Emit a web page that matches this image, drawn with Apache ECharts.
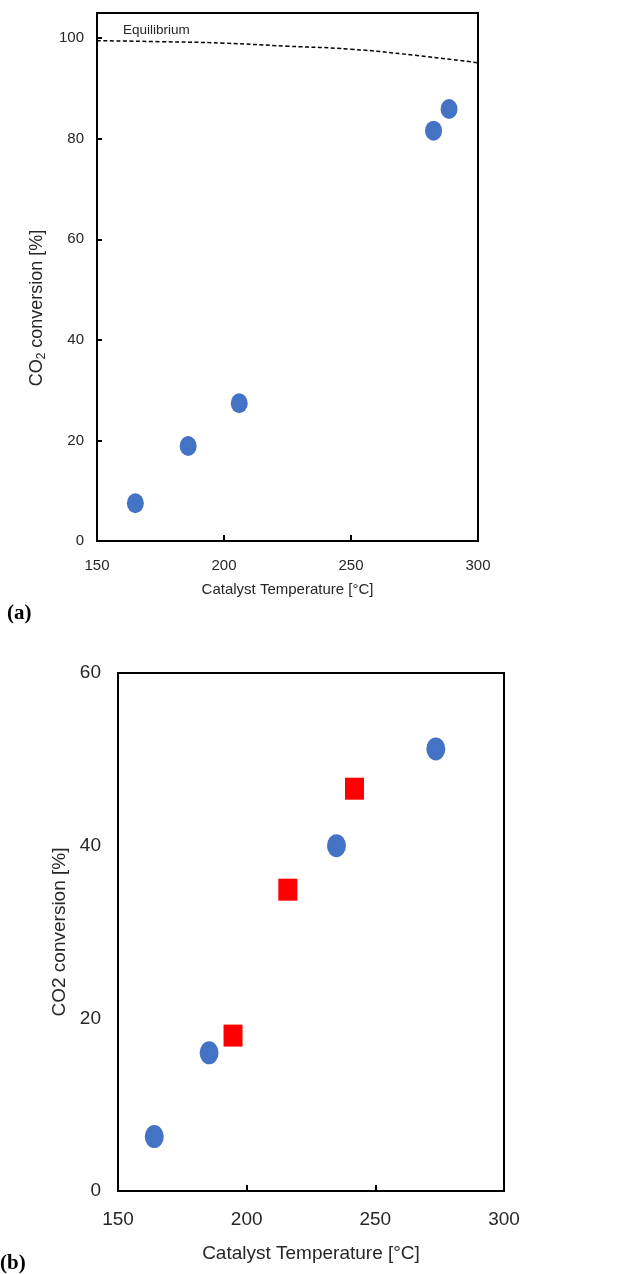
<!DOCTYPE html>
<html>
<head>
<meta charset="utf-8">
<script src="https://cdn.jsdelivr.net/npm/echarts@6.0.0/dist/echarts.min.js"></script>
<style>
body{margin:0;background:#fff;}
#main{width:639px;height:1274px;}
</style>
</head>
<body>
<div id="main"></div>
<script>
// (a) measured conversion vs catalyst temperature
var tempA = [165.1, 185.9, 206.0, 282.5, 288.6];
var convA = [7.5, 18.9, 27.4, 81.6, 85.9];
// equilibrium curve
var eqTemp = [150, 175, 200, 225, 250, 275, 300];
var eqConv = [99.5, 99.3, 99.0, 98.4, 97.8, 96.6, 95.1];
// (b) two sets
var tempB1 = [164.1, 185.4, 234.9, 273.5];
var convB1 = [6.3, 16.0, 40.0, 51.2];
var tempB2 = [194.7, 216.0, 241.9];
var convB2 = [18.0, 34.9, 46.6];

function pairs(xs, ys){
	var out = [];
	for(var i=0;i<xs.length;i++){
		out.push([xs[i], ys[i]]);
	}
	return out;
}

var font = 'Liberation Sans, Arial, sans-serif';
var txt = '#262626';

var myChart = echarts.init(document.getElementById('main'));
var option = {
	animation: false,
	textStyle: {fontFamily: font},
	grid: [
		{left: 97, top: 13, width: 381, height: 528, show: true, borderColor: '#000', borderWidth: 2},
		{left: 118, top: 673, width: 386, height: 518, show: true, borderColor: '#000', borderWidth: 2}
	],
	xAxis: [
		{
			gridIndex: 0, type: 'value', min: 150, max: 300, interval: 50,
			name: 'Catalyst Temperature [°C]', nameLocation: 'middle', nameGap: 41,
			nameTextStyle: {fontSize: 15, color: txt, fontFamily: font},
			axisLine: {lineStyle: {color: '#000', width: 2}},
			axisTick: {inside: true, length: 6, lineStyle: {color: '#000', width: 2}},
			axisLabel: {fontSize: 15, color: txt, margin: 17},
			splitLine: {show: false}
		},
		{
			gridIndex: 1, type: 'value', min: 150, max: 300, interval: 50,
			name: 'Catalyst Temperature [°C]', nameLocation: 'middle', nameGap: 53,
			nameTextStyle: {fontSize: 19, color: txt, fontFamily: font},
			axisLine: {lineStyle: {color: '#000', width: 2}},
			axisTick: {inside: true, length: 6, lineStyle: {color: '#000', width: 2}},
			axisLabel: {fontSize: 19, color: txt, margin: 19},
			splitLine: {show: false}
		}
	],
	yAxis: [
		{
			gridIndex: 0, type: 'value', min: 0, max: 105, interval: 20,
			name: '{n|CO}{s|2}{n| conversion [%]}', nameLocation: 'middle', nameGap: 40,
			nameTextStyle: {
				padding: [0, 62, 0, 0],
				rich: {
					n: {fontSize: 18, color: txt, fontFamily: font, lineHeight: 23},
					s: {fontSize: 12, color: txt, fontFamily: font, lineHeight: 12, verticalAlign: 'bottom'}
				}
			},
			axisLine: {lineStyle: {color: '#000', width: 2}},
			axisTick: {inside: true, length: 5, lineStyle: {color: '#000', width: 2}},
			axisLabel: {fontSize: 15, color: txt, margin: 13, showMaxLabel: false},
			splitLine: {show: false}
		},
		{
			gridIndex: 1, type: 'value', min: 0, max: 60, interval: 20,
			name: 'CO2 conversion [%]', nameLocation: 'middle', nameGap: 49,
			nameTextStyle: {fontSize: 19, color: txt, fontFamily: font},
			axisLine: {lineStyle: {color: '#000', width: 2}},
			axisTick: {show: false},
			axisLabel: {fontSize: 19, color: txt, margin: 17},
			splitLine: {show: false}
		}
	],
	series: [
		{
			type: 'line', xAxisIndex: 0, yAxisIndex: 0,
			data: pairs(eqTemp, eqConv), smooth: true, showSymbol: false, symbol: 'none',
			lineStyle: {color: '#000', width: 1.5, type: [4, 2.5]},
			markPoint: {
				symbol: 'circle', symbolSize: 1, itemStyle: {color: 'rgba(0,0,0,0)'},
				label: {show: true, position: 'right', distance: 0, formatter: 'Equilibrium', fontSize: 13.5, color: txt, fontFamily: font},
				data: [{coord: [160, 101.6]}]
			}
		},
		{
			type: 'scatter', xAxisIndex: 0, yAxisIndex: 0,
			data: pairs(tempA, convA), symbol: 'circle', symbolSize: [17, 20],
			itemStyle: {color: '#4472C4', opacity: 1}
		},
		{
			type: 'scatter', xAxisIndex: 1, yAxisIndex: 1,
			data: pairs(tempB1, convB1), symbol: 'circle', symbolSize: [19, 23],
			itemStyle: {color: '#4472C4', opacity: 1}
		},
		{
			type: 'scatter', xAxisIndex: 1, yAxisIndex: 1,
			data: pairs(tempB2, convB2), symbol: 'rect', symbolSize: [19, 22],
			itemStyle: {color: '#FF0000', opacity: 1}
		}
	],
	graphic: [
		{type: 'text', left: 7, top: 603, style: {text: '(a)', font: 'bold 21px "Liberation Serif", "Times New Roman", serif', fill: '#000'}},
		{type: 'text', left: 0, top: 1253, style: {text: '(b)', font: 'bold 21px "Liberation Serif", "Times New Roman", serif', fill: '#000'}}
	]
};
myChart.setOption(option);
</script>
</body>
</html>
